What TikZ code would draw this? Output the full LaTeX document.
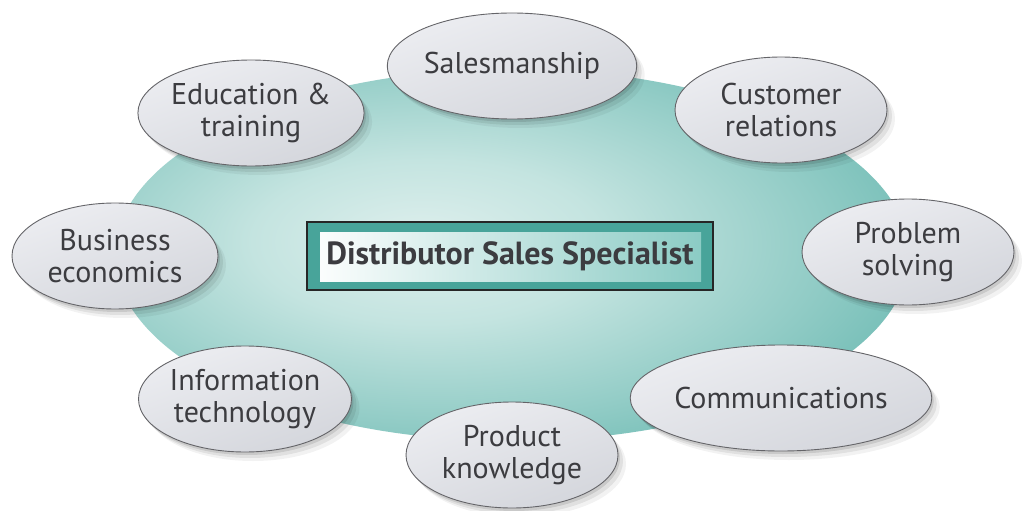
\documentclass[tikz,border=0pt]{standalone}
\usepackage{fontspec}
\setmainfont{PT Sans}
\usetikzlibrary{shapes.geometric,shadows}
\definecolor{tealA}{RGB}{222,239,237}
\definecolor{tealB}{RGB}{196,228,224}
\definecolor{tealmid}{RGB}{146,204,198}
\definecolor{tealedge}{RGB}{92,178,170}
\definecolor{tealdark}{RGB}{80,168,160}
\definecolor{tealframe}{RGB}{72,164,154}
\definecolor{tealinner}{RGB}{136,202,195}
\definecolor{txt}{RGB}{60,60,64}
\definecolor{bubtop}{RGB}{236,237,241}
\definecolor{bubbot}{RGB}{212,214,220}
\definecolor{bubline}{RGB}{100,100,104}
\pgfdeclareradialshading{tealglow}{\pgfpoint{-6bp}{2bp}}{color(0bp)=(tealA); color(11bp)=(tealB); color(24bp)=(tealmid); color(37bp)=(tealedge); color(55bp)=(tealdark); color(100bp)=(tealdark)}
\begin{document}
\begin{tikzpicture}[x=1pt,y=-1pt,
  bub/.style={ellipse, draw=bubline, line width=0.9pt,
    minimum width=212pt, minimum height=106pt, inner sep=0pt,
    align=center, text=txt, font=\fontsize{30}{32}\selectfont,
    top color=bubtop, bottom color=bubbot, shading angle=20,
    drop shadow={shadow xshift=2pt,shadow yshift=-3pt,opacity=.10,fill=black},
    drop shadow={shadow xshift=5pt,shadow yshift=-6pt,opacity=.07,fill=black},
    drop shadow={shadow xshift=8pt,shadow yshift=-9pt,opacity=.05,fill=black}},
  narrowbub/.style={bub, minimum width=206pt},
  titlebox/.style={rectangle, draw=black!85, line width=2pt, fill=tealframe,
    minimum width=406pt, minimum height=68pt, inner sep=0pt,
    text=txt, font=\bfseries\fontsize{32}{34}\selectfont,
    path picture={\shade[left color=white, right color=tealinner]
      ([xshift=13pt,yshift=-10pt]path picture bounding box.north west) rectangle
      ([xshift=-12pt,yshift=9pt]path picture bounding box.south east);}}
]
\useasboundingbox (0,0) rectangle (1026,511);
\fill[white] (0,0) rectangle (1026,511);
\node[ellipse, shade, shading=tealglow, minimum width=794pt, minimum height=372pt, inner sep=0pt] (bg) at (512,255) {};
\node[titlebox] (dss) at (510,256) {Distributor Sales Specialist};
\node[bub] (sales) at (512,66) {Salesmanship};
\node[bub] (edu) at (251,113) {Education \&\\training};
\node[bub] (cust) at (781,110) {Customer\\relations};
\node[narrowbub] (bus) at (115,256) {Business\\economics};
\node[bub] (prob) at (908,252) {Problem\\solving};
\node[narrowbub] (info) at (245,399) {Information\\technology};
\node[bub] (comm) at (781,398) {Communications};
\node[bub] (prod) at (512,455) {Product\\knowledge};
\end{tikzpicture}
\end{document}
